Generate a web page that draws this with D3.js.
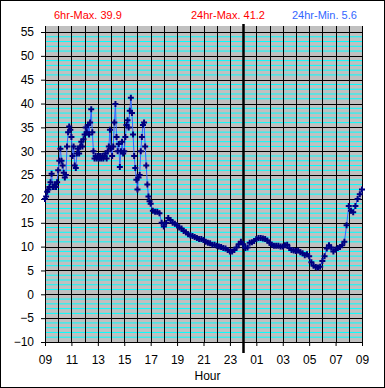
<!DOCTYPE html>
<html>
<head>
<meta charset="utf-8">
<script src="https://cdn.jsdelivr.net/npm/d3@7"></script>
<style>
    body { margin: 0; background: #fff; }
    svg text { font-family: "Liberation Sans", Arial, sans-serif; }
</style>
</head>
<body>
<div id="chart"></div>
<script>
// 09:00 - 17:00, one reading every 5 minutes
var dayStep = 5;
var dayTemps = [
    20.0, 20.5, 21.5, 22.0, 22.5, 23.5, 25.3, 22.5, 22.5, 23.0, 22.5, 23.5,
    26.0, 28.0, 30.5, 28.0, 27.0, 25.5, 24.5, 25.0, 31.0, 34.0, 35.2, 34.5,
    33.0, 29.0, 31.0, 27.0, 26.5, 29.5, 30.5, 29.5, 31.0, 32.0, 31.0, 32.5,
    33.5, 35.0, 34.0, 35.5, 33.5, 36.0, 38.8, 34.0, 30.0, 28.5, 29.0, 28.5,
    29.0, 28.5, 29.0, 28.5, 29.0, 28.5, 29.0, 29.5, 28.5, 30.0, 31.0, 34.5,
    30.5, 29.0, 31.0, 36.0, 39.9, 33.0, 30.0, 31.5, 26.7, 30.0, 32.0, 29.5,
    30.0, 33.0, 35.5, 36.5, 35.0, 38.5, 41.2, 38.0, 33.5, 29.0, 26.5, 24.0,
    22.0, 24.5, 25.0, 30.0, 33.0, 35.5, 36.0, 31.0, 27.0, 23.0, 20.5, 19.5,
    19.0
];

// 17:10 - 09:00 next day, one reading every 10 minutes
var nightStart = 490;
var nightStep = 10;
var nightTemps = [
    17.5, 17.3, 17.3, 17.0, 15.0, 14.2, 15.0, 16.0, 15.6, 15.0, 14.8,
    14.5, 14.0, 13.8, 13.3, 13.0, 12.6, 12.4, 12.2, 12.0, 11.8, 11.6, 11.6,
    11.4, 11.0, 10.8, 10.7, 10.4, 10.4, 10.2, 10.0, 9.9, 9.7, 9.6, 9.3,
    9.0, 9.0, 9.3, 9.8, 10.5, 11.0, 10.5, 9.7, 9.8, 10.8, 10.9, 11.2,
    11.6, 11.8, 11.8, 11.7, 11.6, 11.3, 10.8, 10.4, 10.2, 10.2, 10.2, 10.0,
    10.0, 10.3, 10.4, 9.7, 9.3, 9.2, 9.1, 9.2, 8.8, 8.6, 8.2, 8.4,
    8.0, 6.7, 6.0, 5.7, 5.6, 5.8, 7.0, 8.0, 9.6, 10.3, 9.8, 9.0,
    9.4, 9.7, 9.9, 10.3, 11.0, 14.5, 18.5, 17.5, 17.2, 18.5, 20.0, 21.0, 22.0
];

var hourLabels = ["09", "11", "13", "15", "17", "19", "21", "23", "01", "03", "05", "07", "09"];
var tempTicks = [-10, -5, 0, 5, 10, 15, 20, 25, 30, 35, 40, 45, 50, 55];
var midnightHour = 15;
var statLabels = ["6hr-Max. 39.9", "24hr-Max. 41.2", "24hr-Min. 5.6"];

var readings = dayTemps.map(function(v, i) { return {h: i * dayStep / 60, v: v}; })
    .concat(nightTemps.map(function(v, i) { return {h: (nightStart + i * nightStep) / 60, v: v}; }));

var margin = {top: 26, right: 23, bottom: 46, left: 45},
    width = 385 - margin.left - margin.right,
    height = 388 - margin.top - margin.bottom;

var x = d3.scaleLinear().domain([0, 24]).range([0, width]);
var y = d3.scaleLinear().domain([-10, 55]).range([height, 6]);

var svg = d3.select("#chart").append("svg")
    .attr("width", 385)
    .attr("height", 388);

// outer frame
svg.append("rect")
    .attr("x", 0.5).attr("y", 0.5)
    .attr("width", 384).attr("height", 387)
    .attr("fill", "#fff")
    .attr("stroke", "#000");

// header stats
var statX = [54, 191, 292],
    statColors = ["#ff0000", "#ff0000", "#3366ff"];
svg.selectAll(".stat")
    .data(statLabels)
    .enter().append("text")
    .attr("class", "stat")
    .attr("x", function(d, i) { return statX[i]; })
    .attr("y", 19)
    .attr("font-size", 11)
    .attr("fill", function(d, i) { return statColors[i]; })
    .text(function(d) { return d; });

var g = svg.append("g")
    .attr("transform", "translate(" + margin.left + "," + margin.top + ")");

g.append("rect")
    .attr("width", width)
    .attr("height", height)
    .attr("fill", "#c0c0c0");

// minor gridlines every degree
var minor = d3.range(-9, 55).filter(function(v) { return v % 5 !== 0; });
g.selectAll(".minor")
    .data(minor)
    .enter().append("line")
    .attr("class", "minor")
    .attr("x1", 0).attr("x2", width)
    .attr("y1", function(d) { return y(d); })
    .attr("y2", function(d) { return y(d); })
    .attr("stroke", "#00ffff")
    .attr("stroke-width", 1);

// major gridlines
g.selectAll(".major")
    .data(tempTicks.slice(1))
    .enter().append("line")
    .attr("class", "major")
    .attr("x1", 0).attr("x2", width)
    .attr("y1", function(d) { return Math.round(y(d)) + 0.5; })
    .attr("y2", function(d) { return Math.round(y(d)) + 0.5; })
    .attr("stroke", "#000");

g.selectAll(".vgrid")
    .data(d3.range(1, 25))
    .enter().append("line")
    .attr("class", "vgrid")
    .attr("y1", 0).attr("y2", height)
    .attr("x1", function(d) { return Math.round(x(d)) + 0.5; })
    .attr("x2", function(d) { return Math.round(x(d)) + 0.5; })
    .attr("stroke", "#000");

// midnight marker
g.append("line")
    .attr("x1", Math.round(x(midnightHour)) + 0.5)
    .attr("x2", Math.round(x(midnightHour)) + 0.5)
    .attr("y1", -2).attr("y2", height + 11)
    .attr("stroke", "#000")
    .attr("stroke-width", 2.5);

// axes
var yAxis = d3.axisLeft(y)
    .tickValues(tempTicks)
    .tickSize(4)
    .tickSizeOuter(0)
    .tickPadding(7);

var xAxis = d3.axisBottom(x)
    .tickValues(d3.range(0, 25, 2))
    .tickFormat(function(d, i) { return hourLabels[i]; })
    .tickSize(4)
    .tickSizeOuter(0)
    .tickPadding(9);

var ya = g.append("g").call(yAxis);
var xa = g.append("g").attr("transform", "translate(0," + height + ")").call(xAxis);
[ya, xa].forEach(function(a) {
    a.select(".domain").remove();
    a.selectAll("text")
        .attr("font-size", 12)
        .attr("font-family", "'Liberation Sans', Arial, sans-serif")
        .attr("fill", "#000");
    a.selectAll(".tick line").attr("stroke", "#000");
});

g.append("line")
    .attr("x1", 0.5).attr("x2", 0.5)
    .attr("y1", 0).attr("y2", height + 0.5)
    .attr("stroke", "#000");
g.append("line")
    .attr("x1", 0).attr("x2", width)
    .attr("y1", height + 0.5).attr("y2", height + 0.5)
    .attr("stroke", "#000");

g.append("text")
    .attr("x", width / 2 + 4)
    .attr("y", height + 38)
    .attr("text-anchor", "middle")
    .attr("font-size", 12)
    .text("Hour");

// temperature trace
var line = d3.line()
    .x(function(d) { return x(d.h); })
    .y(function(d) { return y(d.v); });

g.append("path")
    .attr("d", line(readings))
    .attr("fill", "none")
    .attr("stroke", "#3366ff")
    .attr("stroke-width", 1);

g.selectAll(".pt")
    .data(readings)
    .enter().append("path")
    .attr("class", "pt")
    .attr("transform", function(d) { return "translate(" + x(d.h) + "," + y(d.v) + ")"; })
    .attr("d", "M-3,0H3M0,-3V3")
    .attr("stroke", "#000080")
    .attr("stroke-width", 2);
</script>
</body>
</html>
